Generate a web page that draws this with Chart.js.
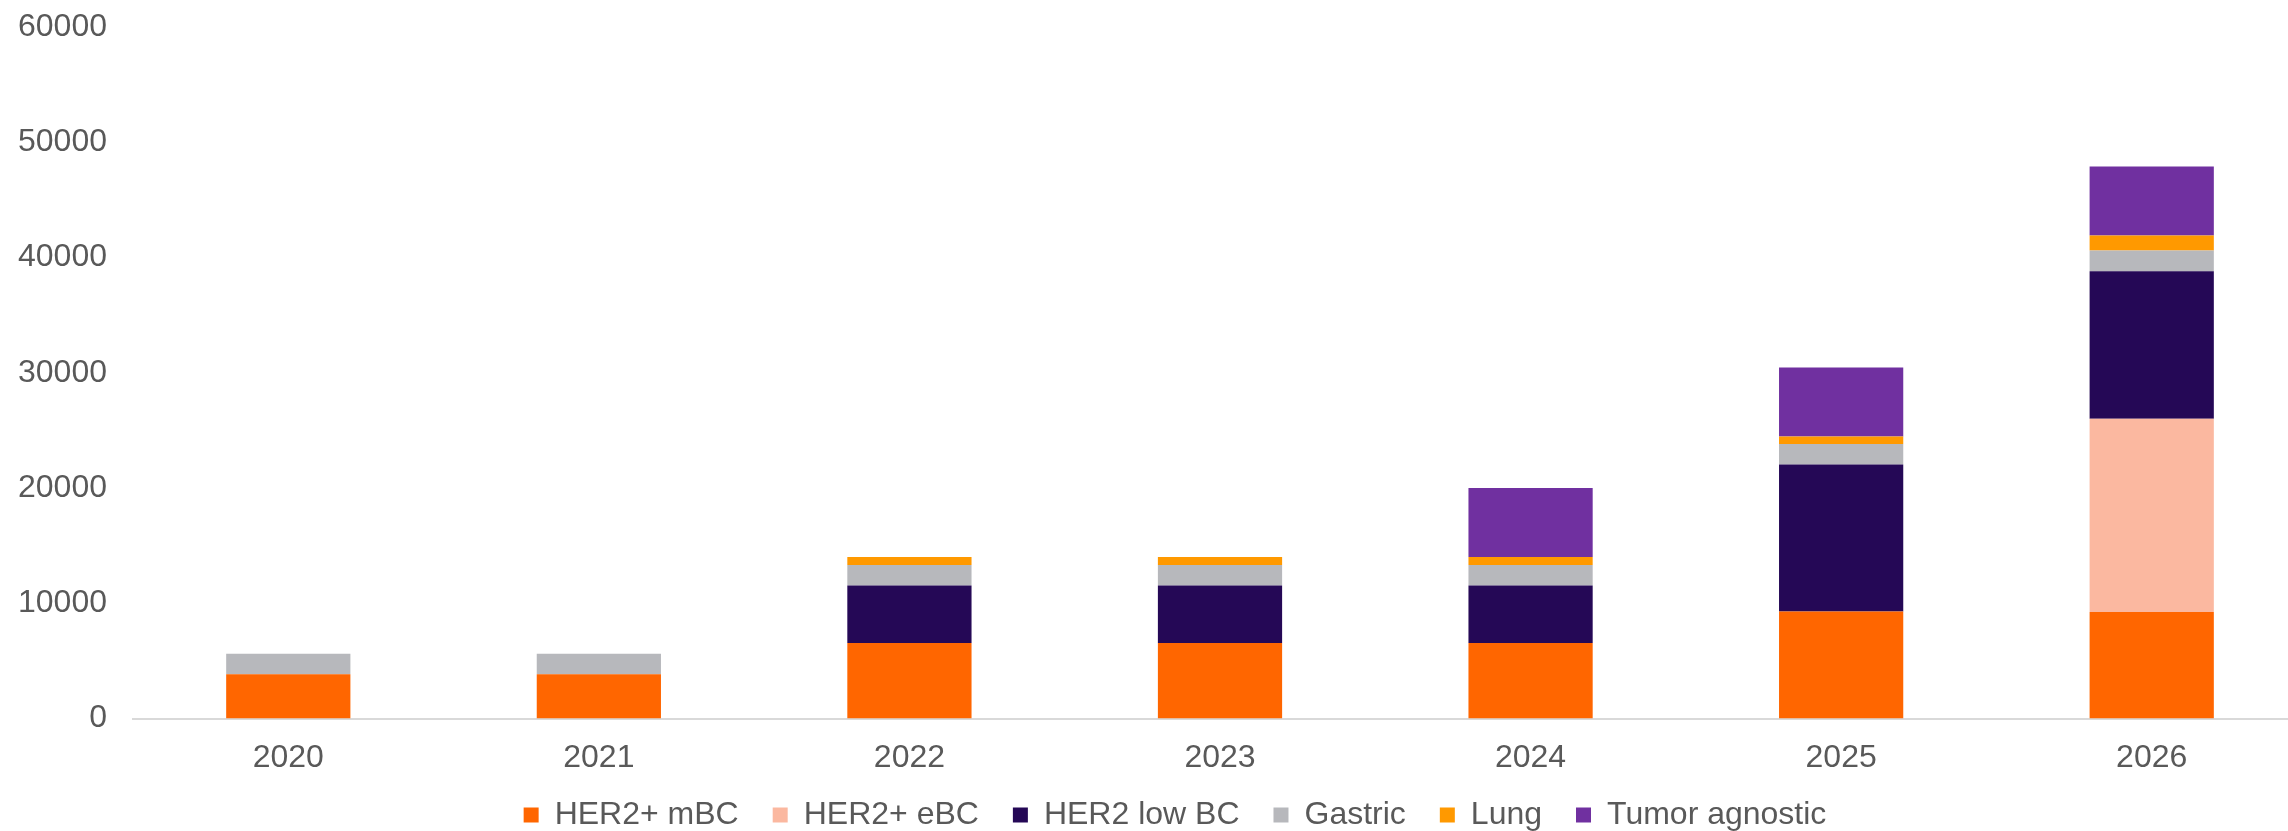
<!DOCTYPE html>
<html>
<head>
<meta charset="utf-8">
<script src="https://cdn.jsdelivr.net/npm/chart.js@4/dist/chart.umd.min.js"></script>
<style>
  html, body { margin: 0; padding: 0; background: #fff; overflow: hidden; }
  #wrap { width: 2350px; height: 891px; margin-top: -18px; }
</style>
</head>
<body>
<div id="wrap"><canvas id="myChart" width="2350" height="891"></canvas></div>
<script>
const years = ['2020', '2021', '2022', '2023', '2024', '2025', '2026'];

const her2Mbc   = [3850, 3850, 6550, 6550, 6550, 9300, 9250];
const her2Ebc   = [0, 0, 0, 0, 0, 0, 16770];
const her2LowBc = [0, 0, 5000, 5000, 5000, 12750, 12800];
const gastric   = [1770, 1770, 1770, 1770, 1770, 1770, 1800];
const lung      = [0, 0, 700, 700, 700, 650, 1300];
const tumorAgn  = [0, 0, 0, 0, 6000, 6000, 6000];

const yTicks = [0, 10000, 20000, 30000, 40000, 50000, 60000];

const textColor = '#595959';
const font = { family: '"Liberation Sans", Arial, sans-serif', size: 32 };

// lift the legend row closer to the year labels
const legendLift = {
    id: 'legendLift',
    afterLayout(chart) {
        chart.legend.top -= 32;
        chart.legend.bottom -= 32;
    }
};

const ctx = document.getElementById('myChart');

new Chart(ctx, {
    type: 'bar',
    data: {
        labels: years,
        datasets: [
            { label: 'HER2+ mBC', data: her2Mbc, backgroundColor: '#FF6600' },
            { label: 'HER2+ eBC', data: her2Ebc, backgroundColor: '#FBB8A0' },
            { label: 'HER2 low BC', data: her2LowBc, backgroundColor: '#250856' },
            { label: 'Gastric', data: gastric, backgroundColor: '#B7B8BC' },
            { label: 'Lung', data: lung, backgroundColor: '#FF9900' },
            { label: 'Tumor agnostic', data: tumorAgn, backgroundColor: '#7030A0' },
        ]
    },
    options: {
        responsive: false,
        animation: false,
        categoryPercentage: 1,
        barPercentage: 0.4,
        layout: { padding: { top: 10, left: 0, right: 0, bottom: 0 } },
        plugins: {
            legend: {
                position: 'bottom',
                labels: {
                    color: textColor,
                    font: font,
                    boxWidth: 15,
                    boxHeight: 15,
                    padding: 34,
                }
            },
            tooltip: { enabled: false },
        },
        scales: {
            x: {
                stacked: true,
                grid: { display: false, drawTicks: false },
                border: { display: true, color: '#D9D9D9', width: 2 },
                ticks: { color: textColor, font: font, padding: 20 },
            },
            y: {
                stacked: true,
                min: 0,
                max: 60000,
                grid: { display: false, drawTicks: false },
                border: { display: false },
                ticks: {
                    color: textColor,
                    font: font,
                    padding: 26,
                    callback: (v) => String(v),
                },
                afterBuildTicks: (scale) => {
                    scale.ticks = yTicks.map(v => ({ value: v }));
                },
                afterFit: (scale) => { scale.width = 133; },
            },
            // empty right-hand axis, only reserves room so the plot runs past the page edge
            yRight: {
                position: 'right',
                display: true,
                grid: { display: false, drawTicks: false },
                border: { display: false },
                ticks: { display: false },
                afterFit: (scale) => { scale.width = 43; },
            },
        },
    },
    plugins: [legendLift],
});
</script>
</body>
</html>
